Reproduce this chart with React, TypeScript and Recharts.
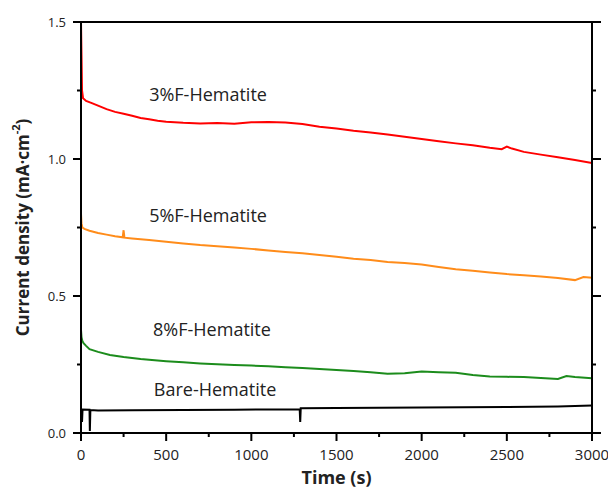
import { Label, Line, LineChart, ReferenceDot, ReferenceLine, XAxis, YAxis } from 'recharts';

// time (s) and current density (mA/cm2)
const redTime = [0, 3, 6, 12, 30, 60, 100, 150, 200, 250, 300, 350, 400, 450, 500, 600, 700, 800, 900, 1000, 1100, 1200, 1300, 1400, 1500, 1600, 1700, 1800, 1900, 2000, 2100, 2200, 2300, 2400, 2470, 2500, 2530, 2600, 2700, 2800, 2900, 3000];
const redValues = [1.5, 1.38, 1.25, 1.222, 1.212, 1.205, 1.195, 1.182, 1.172, 1.165, 1.158, 1.15, 1.145, 1.14, 1.136, 1.132, 1.13, 1.131, 1.129, 1.134, 1.135, 1.133, 1.128, 1.118, 1.111, 1.103, 1.097, 1.089, 1.081, 1.073, 1.065, 1.057, 1.05, 1.041, 1.036, 1.045, 1.038, 1.026, 1.016, 1.006, 0.996, 0.985];

const orangeTime = [0, 3, 8, 20, 50, 100, 150, 200, 245, 250, 255, 300, 400, 500, 600, 700, 800, 900, 1000, 1100, 1200, 1300, 1400, 1500, 1600, 1700, 1800, 1900, 2000, 2100, 2200, 2300, 2400, 2500, 2600, 2700, 2800, 2900, 2950, 3000];
const orangeValues = [0.8, 0.765, 0.75, 0.745, 0.738, 0.73, 0.724, 0.718, 0.714, 0.74, 0.713, 0.71, 0.704, 0.698, 0.692, 0.686, 0.682, 0.677, 0.672, 0.666, 0.661, 0.656, 0.65, 0.643, 0.636, 0.631, 0.624, 0.62, 0.615, 0.606, 0.598, 0.592, 0.586, 0.58, 0.576, 0.571, 0.566, 0.558, 0.569, 0.567];

const greenTime = [0, 3, 8, 15, 30, 50, 100, 170, 250, 350, 500, 600, 700, 800, 900, 1000, 1100, 1200, 1300, 1400, 1500, 1600, 1700, 1800, 1900, 2000, 2100, 2200, 2300, 2400, 2500, 2600, 2700, 2800, 2850, 2900, 3000];
const greenValues = [0.376, 0.35, 0.336, 0.328, 0.318, 0.306, 0.296, 0.285, 0.277, 0.27, 0.262, 0.258, 0.254, 0.251, 0.248, 0.246, 0.244, 0.24, 0.237, 0.234, 0.23, 0.226, 0.222, 0.216, 0.218, 0.224, 0.222, 0.22, 0.212, 0.206, 0.205, 0.204, 0.201, 0.197, 0.208, 0.204, 0.2];

const bareTime = [0, 3, 6, 9, 50, 52, 55, 100, 300, 600, 900, 1200, 1284, 1287, 1290, 1500, 2000, 2500, 2800, 3000];
const bareValues = [0.04, 0.087, 0.04, 0.086, 0.085, 0.007, 0.084, 0.082, 0.083, 0.084, 0.085, 0.086, 0.086, 0.04, 0.09, 0.091, 0.093, 0.095, 0.097, 0.1];

const seriesNames = ['3%F-Hematite', '5%F-Hematite', '8%F-Hematite', 'Bare-Hematite'];
const seriesColors = ['#ff0000', '#ff8c1a', '#1c8c1c', '#000000'];
// where each curve's name sits (time, current density)
const nameTimes = [746, 746, 769, 787];
const nameValues = [1.234, 0.792, 0.376, 0.157];

const xTicks = [0, 250, 500, 750, 1000, 1250, 1500, 1750, 2000, 2250, 2500, 2750, 3000];
const yTicks = [0, 0.25, 0.5, 0.75, 1, 1.25, 1.5];

const FONT = '"Open Sans", sans-serif';
const TICK_SIZE = 8;
const TICK_MARGIN = 7;

const toPoints = (times: number[], values: number[]) => times.map((t, i) => ({ t, v: values[i] }));

const seriesData = [
  toPoints(redTime, redValues),
  toPoints(orangeTime, orangeValues),
  toPoints(greenTime, greenValues),
  toPoints(bareTime, bareValues),
];

const LeftTick = ({ x, y, payload }: any) => {
  const major = payload.value % 0.5 === 0;
  const axisX = x + TICK_SIZE + TICK_MARGIN;
  return (
    <g>
      <line x1={axisX - (major ? 8 : 4)} x2={axisX} y1={y} y2={y} stroke="#000" strokeWidth={2} />
      {major ? (
        <text x={x} y={y} dy={5} textAnchor="end" fontSize={13} fill="#222" fontFamily={FONT}>
          {payload.value.toFixed(1)}
        </text>
      ) : null}
    </g>
  );
};

const RightTick = ({ x, y, payload }: any) => {
  const major = payload.value % 0.5 === 0;
  const axisX = x - TICK_SIZE - TICK_MARGIN;
  return <line x1={axisX} x2={axisX + (major ? 9 : 4)} y1={y} y2={y} stroke="#000" strokeWidth={2} />;
};

const BottomTick = ({ x, y, payload }: any) => {
  const major = payload.value % 500 === 0;
  const axisY = y - TICK_SIZE - TICK_MARGIN;
  return (
    <g>
      <line x1={x} x2={x} y1={axisY} y2={axisY + (major ? 8 : 4)} stroke="#000" strokeWidth={2} />
      {major ? (
        <text x={x} y={axisY + 27} textAnchor="middle" fontSize={15} fill="#222" fontFamily={FONT}>
          {payload.value}
        </text>
      ) : null}
    </g>
  );
};

const YTitle = ({ viewBox }: any) => {
  const cx = viewBox.x + 22;
  const cy = viewBox.y + viewBox.height / 2;
  return (
    <text
      x={cx}
      y={cy}
      transform={`rotate(-90 ${cx} ${cy})`}
      textAnchor="middle"
      dominantBaseline="central"
      fontSize={17}
      fontWeight="bold"
      fill="#222"
      fontFamily={FONT}
    >
      Current density (mA·cm
      <tspan dy={-7} fontSize={11}>-2</tspan>
      <tspan dy={7}>)</tspan>
    </text>
  );
};

const XTitle = ({ viewBox }: any) => (
  <text
    x={viewBox.x + viewBox.width / 2}
    y={viewBox.y + 51}
    textAnchor="middle"
    fontSize={18}
    fontWeight="bold"
    fill="#222"
    fontFamily={FONT}
  >
    Time (s)
  </text>
);

export default function App() {
  return (
    <div style={{ position: 'absolute', left: 0, top: 0, background: '#fff' }}>
      <LineChart width={608} height={488} margin={{ top: 22, right: 0, bottom: 0, left: 0 }}>
        <XAxis
          dataKey="t"
          type="number"
          domain={[0, 3000]}
          ticks={xTicks}
          interval={0}
          height={55}
          tickSize={TICK_SIZE}
          tickMargin={TICK_MARGIN}
          tickLine={false}
          tick={BottomTick}
          axisLine={{ stroke: '#000', strokeWidth: 2 }}
          allowDataOverflow
        >
          <Label content={XTitle} />
        </XAxis>
        <YAxis
          yAxisId="left"
          type="number"
          domain={[0, 1.5]}
          ticks={yTicks}
          interval={0}
          width={81}
          tickSize={TICK_SIZE}
          tickMargin={TICK_MARGIN}
          tickLine={false}
          tick={LeftTick}
          axisLine={{ stroke: '#000', strokeWidth: 2 }}
          allowDataOverflow
        >
          <Label content={YTitle} />
        </YAxis>
        <YAxis
          yAxisId="right"
          orientation="right"
          type="number"
          domain={[0, 1.5]}
          ticks={yTicks}
          interval={0}
          width={16}
          tickSize={TICK_SIZE}
          tickMargin={TICK_MARGIN}
          tickLine={false}
          tick={RightTick}
          axisLine={{ stroke: '#000', strokeWidth: 2 }}
          allowDataOverflow
        />
        <ReferenceLine yAxisId="left" y={1.5} stroke="#000" strokeWidth={2} />
        {seriesData.map((data, i) => (
          <Line
            key={seriesNames[i]}
            yAxisId="left"
            data={data}
            dataKey="v"
            type="linear"
            stroke={seriesColors[i]}
            strokeWidth={2}
            dot={false}
            activeDot={false}
            isAnimationActive={false}
          />
        ))}
        {seriesNames.map((name, i) => (
          <ReferenceDot
            key={name}
            yAxisId="left"
            x={nameTimes[i]}
            y={nameValues[i]}
            r={0}
            fill="none"
            stroke="none"
            label={{ value: name, position: 'center', fontSize: 18, fill: '#222', fontFamily: FONT }}
          />
        ))}
      </LineChart>
    </div>
  );
}
